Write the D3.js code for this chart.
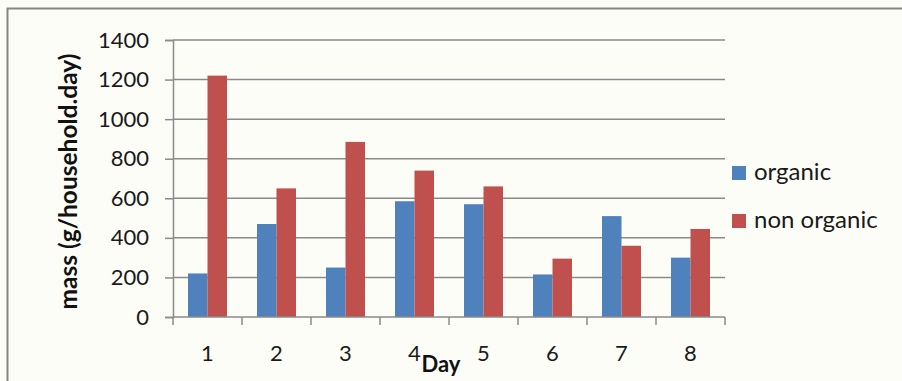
<!DOCTYPE html>
<html>
<head>
<meta charset="utf-8">
<script src="https://cdn.jsdelivr.net/npm/d3@7"></script>
<style>
  html, body { margin: 0; padding: 0; background: #fdfdf8; }
  svg { display: block; }
</style>
</head>
<body>
<script>
// Daily household waste mass, grouped by day
const days = ["1", "2", "3", "4", "5", "6", "7", "8"];
const seriesNames = ["organic", "non organic"];
const organic = [220, 470, 250, 585, 570, 215, 510, 300];
const nonOrganic = [1220, 650, 885, 740, 660, 295, 360, 445];
const yTicks = [0, 200, 400, 600, 800, 1000, 1200, 1400];
const colors = ["#4f81bd", "#c0504d"];

const W = 902, H = 381;
const plot = { left: 173, right: 725, top: 40, bottom: 317 };
const gridColor = "#8a8a8a";
const font = "Lato, 'Open Sans', sans-serif";

const svg = d3.select("body").append("svg")
  .attr("width", W).attr("height", H);

svg.append("rect").attr("width", W).attr("height", H).attr("fill", "#fdfdf8");

// chart frame (top and left edges)
svg.append("path")
  .attr("d", `M7.5,${H} V8.5 H${W}`)
  .attr("fill", "none").attr("stroke", "#858585").attr("stroke-width", 2);

const x0 = d3.scaleBand().domain(days).range([plot.left, plot.right]).padding(0);
const x1 = d3.scaleBand().domain(seriesNames).range([0, x0.bandwidth()])
  .paddingInner(0).paddingOuter(0.77);
const y = d3.scaleLinear().domain([0, 1400]).range([plot.bottom, plot.top]);

// horizontal gridlines
svg.append("g").selectAll("line").data(yTicks.filter(v => v > 0)).join("line")
  .attr("x1", plot.left).attr("x2", plot.right)
  .attr("y1", d => y(d)).attr("y2", d => y(d))
  .attr("stroke", gridColor).attr("stroke-width", 1.5);

// y axis
const yAxis = svg.append("g")
  .attr("transform", `translate(${plot.left},0)`)
  .call(d3.axisLeft(y).tickValues(yTicks).tickSize(8).tickPadding(16).tickFormat(d3.format("d")));
yAxis.select(".domain").attr("stroke", gridColor).attr("stroke-width", 1.5);
yAxis.selectAll(".tick line").attr("stroke", gridColor).attr("stroke-width", 1.5);
yAxis.selectAll("text").attr("font-family", font).attr("font-size", 22).attr("fill", "#1a1a1a");

// bars
const rows = days.map((d, i) => ({ day: d, values: [organic[i], nonOrganic[i]] }));
svg.append("g").selectAll("g").data(rows).join("g")
  .attr("transform", d => `translate(${x0(d.day)},0)`)
  .selectAll("rect").data(d => d.values.map((v, k) => ({ key: seriesNames[k], v, k })))
  .join("rect")
  .attr("x", d => x1(d.key))
  .attr("width", x1.bandwidth())
  .attr("y", d => y(d.v))
  .attr("height", d => y(0) - y(d.v))
  .attr("fill", d => colors[d.k]);

// x axis: ticks at category boundaries
const boundaries = days.map(d => x0(d)).concat([plot.right]);
svg.append("line")
  .attr("x1", plot.left).attr("x2", plot.right)
  .attr("y1", plot.bottom).attr("y2", plot.bottom)
  .attr("stroke", gridColor).attr("stroke-width", 1.5);
svg.append("g").selectAll("line").data(boundaries).join("line")
  .attr("x1", d => d).attr("x2", d => d)
  .attr("y1", plot.bottom).attr("y2", plot.bottom + 8)
  .attr("stroke", gridColor).attr("stroke-width", 1.5);
svg.append("g").selectAll("text").data(days).join("text")
  .attr("x", d => x0(d) + x0.bandwidth() / 2)
  .attr("y", 361)
  .attr("text-anchor", "middle")
  .attr("font-family", font).attr("font-size", 22).attr("fill", "#1a1a1a")
  .text(d => d);

// axis titles
svg.append("text")
  .attr("x", 441).attr("y", 372)
  .attr("text-anchor", "middle")
  .attr("font-family", font).attr("font-weight", "bold").attr("font-size", 22)
  .attr("fill", "#111")
  .text("Day");
svg.append("text")
  .attr("transform", "translate(77,181.5) rotate(-90)")
  .attr("text-anchor", "middle")
  .attr("font-family", font).attr("font-weight", "bold").attr("font-size", 24.5)
  .attr("fill", "#111")
  .text("mass (g/household.day)");

// legend
const legend = svg.append("g").selectAll("g").data(seriesNames).join("g")
  .attr("transform", (d, i) => `translate(732,${166 + i * 48})`);
legend.append("rect").attr("width", 14).attr("height", 14)
  .attr("fill", (d, i) => colors[i]);
legend.append("text")
  .attr("x", 22).attr("y", 13.5)
  .attr("font-family", font).attr("font-size", 24).attr("fill", "#1a1a1a")
  .text(d => d);
</script>
</body>
</html>
